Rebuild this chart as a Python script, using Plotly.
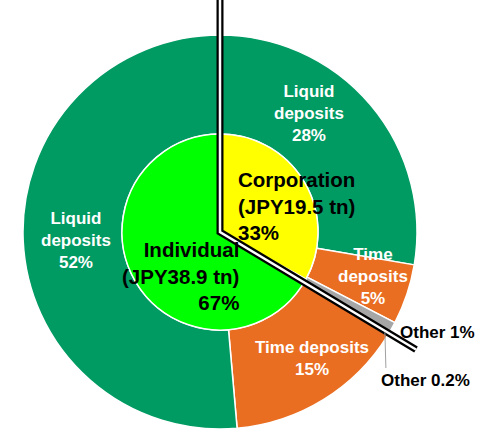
import math
import plotly.graph_objects as go

W, H = 486, 429

# Data
inner_labels = ["Corporation", "Individual"]
inner_values = [33, 67]
inner_amounts = ["JPY19.5 tn", "JPY38.9 tn"]
inner_colors = ["#FFFF00", "#00FF00"]

outer_parents = ["Corporation", "Corporation", "Corporation", "Individual", "Individual", "Individual"]
outer_labels = ["Liquid deposits", "Time deposits", "Other", "Other", "Time deposits", "Liquid deposits"]
outer_values = [28, 5, 1, 0.2, 15, 52]
outer_colors = ["#009A63", "#EA6E22", "#A6A6A6", "#A6A6A6", "#EA6E22", "#009A63"]

# geometry (pixels)
CX, CY = 220, 232
R_OUT = 197
R_IN = 98

def px(x):
    return x / W

def py(y):
    return 1 - y / H

fig = go.Figure()
fig.add_trace(go.Pie(
    values=outer_values, labels=[f"{p} {l}" for p, l in zip(outer_parents, outer_labels)],
    marker=dict(colors=outer_colors, line=dict(color="white", width=1.5)),
    hole=R_IN / R_OUT, sort=False, direction="clockwise", rotation=0,
    textinfo="none", hoverinfo="label+value", showlegend=False,
    domain=dict(x=[px(CX - R_OUT), px(CX + R_OUT)], y=[max(0, py(CY + R_OUT)), py(CY - R_OUT)]),
))
fig.add_trace(go.Pie(
    values=inner_values, labels=inner_labels,
    marker=dict(colors=inner_colors, line=dict(color="white", width=1.5)),
    sort=False, direction="clockwise", rotation=0,
    textinfo="none", hoverinfo="label+value", showlegend=False,
    domain=dict(x=[px(CX - R_IN), px(CX + R_IN)], y=[py(CY + R_IN), py(CY - R_IN)]),
))

# separator line along the Corporation / Individual boundary
corp_share = sum(v for v, p in zip(outer_values, outer_parents) if p == "Corporation") / sum(outer_values)
theta = 2 * math.pi * corp_share
L = R_OUT * 1.16
ex, ey = CX + L * math.sin(theta), CY - L * math.cos(theta)
path = f"M {px(CX)} {py(0)} L {px(CX)} {py(CY)} L {px(ex)} {py(ey)}"
shapes = [
    dict(type="path", path=path, xref="paper", yref="paper", line=dict(color="black", width=7)),
    dict(type="path", path=path, xref="paper", yref="paper", line=dict(color="white", width=2.5)),
]
# leader for the small individual "Other" slice
ind_other_mid = (sum(outer_values[:3]) + outer_values[3] / 2) / sum(outer_values) * 2 * math.pi
lx, ly = CX + (R_OUT - 4) * math.sin(ind_other_mid), CY - (R_OUT - 4) * math.cos(ind_other_mid)
shapes.append(dict(type="line", xref="paper", yref="paper",
                   x0=px(lx), y0=py(ly), x1=px(lx + 1), y1=py(368),
                   line=dict(color="#A0A0A0", width=1)))

FONT = "Arial, Liberation Sans, sans-serif"

def ann(text, x, y, color, size, align="center", xanchor="center"):
    return dict(text=text, x=px(x), y=py(y), xref="paper", yref="paper", showarrow=False,
                font=dict(family=FONT, size=size, color=color), align=align,
                xanchor=xanchor, yanchor="middle")

def pct(v):
    return f"{v:g}%"

annotations = [
    ann(f"<b>Liquid<br>deposits<br>{pct(outer_values[0])}</b>", 309, 113, "white", 17),
    ann(f"<b>Time<br>deposits<br>{pct(outer_values[1])}</b>", 373, 276, "white", 17),
    ann(f"<b>{outer_labels[2]} {pct(outer_values[2])}</b>", 437, 332, "black", 17),
    ann(f"<b>{outer_labels[3]} {pct(outer_values[3])}</b>", 425, 380, "black", 17),
    ann(f"<b>Time deposits<br>{pct(outer_values[4])}</b>", 312, 358, "white", 17),
    ann(f"<b>Liquid<br>deposits<br>{pct(outer_values[5])}</b>", 76, 240, "white", 17),
    ann(f"<b>{inner_labels[0]}<br>({inner_amounts[0]})<br>{pct(inner_values[0])}</b>", 236, 206, "black", 20.5,
        align="left", xanchor="left"),
    ann(f"<b>{inner_labels[1]}<br>({inner_amounts[1]})<br>{pct(inner_values[1])}</b>", 241, 276, "black", 20.5,
        align="right", xanchor="right"),
]

fig.update_layout(
    width=W, height=H, margin=dict(l=0, r=0, t=0, b=0),
    paper_bgcolor="white", plot_bgcolor="white",
    shapes=shapes, annotations=annotations, showlegend=False,
)
fig.write_html("out.html", config={"displayModeBar": False},
               post_script="document.body.style.margin='0';")
